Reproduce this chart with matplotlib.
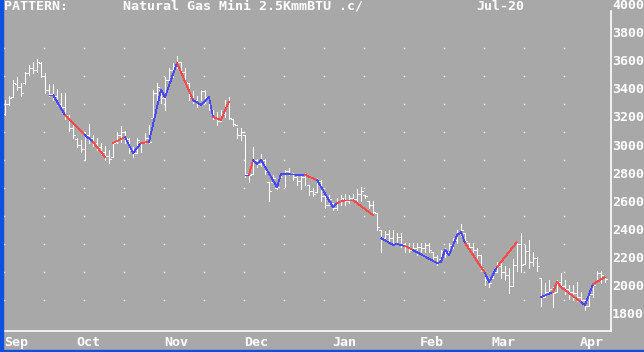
import numpy as np
import matplotlib
matplotlib.use('Agg')
import matplotlib.pyplot as plt
from matplotlib.patches import Rectangle
from matplotlib.transforms import ScaledTranslation

plt.rcParams['font.family'] = 'DejaVu Sans Mono'
plt.rcParams['font.weight'] = 'bold'

title_left = 'PATTERN:'
title_mid = 'Natural Gas Mini 2.5KmmBTU .c/'
title_right = 'Jul-20'

# daily OHLC, one bar per trading day (Sep .. Apr)
highs = [3330, 3360, 3470, 3490, 3450, 3530, 3580, 3600, 3620, 3600,
         3520, 3440, 3440, 3410, 3380, 3380, 3220, 3150, 3060, 3040,
         3100, 3160, 3080, 3060, 3020, 3000, 2970, 3030, 3100, 3140,
         3110, 3060, 2990, 3060, 3030, 3090, 3150, 3400, 3450, 3410,
         3490, 3560, 3590, 3640, 3600, 3560, 3450, 3390, 3360, 3400,
         3400, 3350, 3260, 3240, 3260, 3330, 3350, 3190, 3130, 3130,
         3080, 2830, 2990, 2910, 2940, 2910, 2740, 2790, 2720, 2810,
         2830, 2840, 2810, 2790, 2790, 2810, 2720, 2700, 2770, 2760,
         2650, 2650, 2590, 2630, 2650, 2660, 2650, 2660, 2690, 2710,
         2650, 2610, 2610, 2520, 2400, 2390, 2400, 2400, 2380, 2380,
         2310, 2310, 2310, 2310, 2310, 2310, 2310, 2240, 2220, 2260,
         2270, 2310, 2340, 2400, 2440, 2380, 2310, 2310, 2270, 2220,
         2100, 2060, 2110, 2170, 2170, 2140, 2130, 2190, 2310, 2380,
         2290, 2330, 2240, 2210, 2060, 2020, 2040, 1990, 2040, 2090,
         2040, 2010, 2010, 2030, 1960, 1900, 1960, 2020, 2110, 2110,
         2060]
lows = [3220, 3290, 3350, 3400, 3360, 3440, 3510, 3520, 3530, 3490,
        3380, 3360, 3330, 3290, 3260, 3190, 3110, 3060, 2990, 2960,
        2900, 3020, 3000, 2970, 2940, 2900, 2880, 2920, 3020, 3030,
        3020, 2950, 2920, 2950, 2960, 3020, 3020, 3190, 3330, 3310,
        3260, 3450, 3490, 3560, 3510, 3450, 3330, 3310, 3280, 3330,
        3310, 3260, 3190, 3150, 3190, 3210, 3190, 3140, 3060, 3040,
        2780, 2740, 2810, 2850, 2860, 2800, 2610, 2740, 2690, 2780,
        2710, 2790, 2760, 2720, 2690, 2720, 2650, 2640, 2670, 2610,
        2560, 2590, 2540, 2540, 2580, 2580, 2590, 2610, 2590, 2610,
        2630, 2560, 2520, 2400, 2240, 2330, 2310, 2310, 2310, 2280,
        2240, 2240, 2260, 2220, 2240, 2240, 2240, 2190, 2150, 2190,
        2210, 2240, 2270, 2310, 2360, 2310, 2260, 2240, 2200, 2110,
        2010, 1990, 2060, 2100, 2060, 2040, 1950, 2000, 2110, 2100,
        2160, 2130, 2140, 2110, 1860, 1920, 1940, 1850, 1960, 1990,
        1940, 1910, 1900, 1890, 1890, 1830, 1860, 1920, 2030, 2020,
        2030]
opens = [3230, 3300, 3350, 3440, 3420, 3450, 3520, 3560, 3540, 3590,
         3500, 3400, 3370, 3360, 3300, 3280, 3200, 3130, 3050, 3010,
         2980, 3080, 3060, 3020, 2990, 2960, 2930, 2920, 3030, 3080,
         3100, 3050, 2970, 2950, 3030, 3020, 3060, 3200, 3380, 3400,
         3340, 3470, 3540, 3570, 3600, 3530, 3450, 3350, 3330, 3300,
         3390, 3350, 3260, 3210, 3180, 3230, 3300, 3190, 3150, 3080,
         3080, 2800, 2800, 2900, 2870, 2900, 2740, 2740, 2700, 2790,
         2800, 2820, 2800, 2780, 2750, 2780, 2720, 2680, 2670, 2750,
         2640, 2580, 2590, 2560, 2600, 2620, 2610, 2630, 2620, 2660,
         2650, 2610, 2580, 2520, 2400, 2340, 2370, 2340, 2310, 2350,
         2300, 2280, 2260, 2270, 2280, 2270, 2290, 2240, 2210, 2190,
         2250, 2240, 2290, 2330, 2370, 2380, 2310, 2280, 2260, 2220,
         2100, 2040, 2060, 2100, 2140, 2100, 2080, 2000, 2150, 2300,
         2160, 2250, 2170, 2200, 2060, 1920, 1960, 1960, 1960, 2030,
         2000, 1980, 1960, 1950, 1920, 1900, 1860, 1940, 2030, 2090,
         2060]
closes = [3300, 3340, 3450, 3420, 3380, 3520, 3560, 3540, 3600, 3500,
          3400, 3370, 3360, 3300, 3280, 3220, 3130, 3080, 3010, 2980,
          3080, 3060, 3020, 2990, 2960, 2930, 2910, 3020, 3080, 3100,
          3060, 2970, 2950, 3040, 3020, 3060, 3030, 3380, 3420, 3340,
          3470, 3540, 3570, 3600, 3530, 3460, 3350, 3330, 3300, 3390,
          3350, 3280, 3210, 3180, 3230, 3300, 3200, 3160, 3080, 3100,
          2800, 2790, 2900, 2870, 2900, 2820, 2680, 2770, 2710, 2800,
          2820, 2800, 2780, 2750, 2780, 2790, 2680, 2660, 2750, 2640,
          2580, 2620, 2560, 2600, 2630, 2610, 2630, 2620, 2660, 2680,
          2640, 2580, 2530, 2420, 2340, 2370, 2340, 2300, 2350, 2300,
          2280, 2260, 2270, 2280, 2270, 2290, 2260, 2210, 2170, 2250,
          2230, 2290, 2330, 2370, 2400, 2320, 2280, 2260, 2220, 2130,
          2040, 2020, 2100, 2140, 2100, 2080, 2000, 2150, 2300, 2150,
          2250, 2170, 2200, 2140, 1920, 1960, 1980, 1950, 2030, 2000,
          1980, 1960, 1950, 1920, 1900, 1860, 1940, 2010, 2090, 2080,
          2050]

# pattern overlay: turning points (bar index, price) and a colour per segment
pat_i = [11, 12, 15, 20, 22, 25, 27, 30, 32, 34, 36, 39, 40, 43, 47, 49,
         51, 52, 54, 56, 60, 61, 62, 63, 64, 68, 69, 75, 78, 82, 83, 85,
         87, 92, 94, 97, 98, 100, 102, 108, 109, 110, 111, 113, 114, 115,
         120, 121, 123, 128, 134, 137, 138, 139, 144, 145, 147, 150]
pat_v = [3364, 3364, 3221, 3079, 3029, 2921, 3021, 3064, 2950, 3021, 3029,
         3400, 3350, 3593, 3329, 3293, 3350, 3207, 3186, 3320, 2793, 2793,
         2900, 2871, 2900, 2707, 2800, 2793, 2757, 2564, 2593, 2614, 2614,
         2507, 2343, 2293, 2300, 2286, 2257, 2164, 2171, 2257, 2221, 2364,
         2386, 2307, 2093, 2029, 2136, 2314, 1921, 1957, 2029, 1993, 1886,
         1864, 2014, 2064]
pat_col = 'bbrbr-rbbrbbbrbbbrr-brbbbbbrbbrrr-bbbrbbbbbbbrbbr-brrrbbr'

month_names = ['Sep', 'Oct', 'Nov', 'Dec', 'Jan', 'Feb', 'Mar', 'Apr']
month_start = [0, 18, 40, 60, 82, 104, 122, 144]
price_ticks = [1800, 2000, 2200, 2400, 2600, 2800, 3000, 3200, 3400,
               3600, 3800, 4000]
grid_prices = [1900, 2100, 2300, 2500, 2700, 2900, 3100, 3300, 3500, 3700]

bg = '#a8a8a8'
white = '#ffffff'
colors = {'b': '#4848ff', 'r': '#ff4848'}
ymin, ymax = 1679, 3964

fig = plt.figure(figsize=(6.44, 3.52), dpi=100, facecolor=bg)
ax = fig.add_axes([4 / 644, 21 / 352, 607 / 644, 320 / 352], facecolor=bg)
ax.set_xlim(-0.25, 151.5)
ax.set_ylim(ymin, ymax)

# dotted grid
gx = np.arange(-0.25, 141, 10)
GX, GY = np.meshgrid(gx, grid_prices)
ax.plot(GX.ravel(), GY.ravel(), ls='none', marker='s', ms=1.0, mew=0,
        color=white, antialiased=False)

# OHLC bars, 1 px lines
idx = np.arange(len(highs))
lw = 0.72
ax.vlines(idx, lows, highs, color=white, lw=lw, antialiased=False)
ax.hlines(opens, idx - 0.4, idx, color=white, lw=lw, antialiased=False)
ax.hlines(closes, idx, idx + 0.4, color=white, lw=lw, antialiased=False)

# pattern segments (thin, 1 px)
for k, c in enumerate(pat_col):
    if c == '-':
        continue
    ax.plot(pat_i[k:k + 2], pat_v[k:k + 2], color=colors[c], lw=0.55,
            antialiased=False, solid_capstyle='butt')

for s in ['top', 'left']:
    ax.spines[s].set_visible(False)
for s in ['right', 'bottom']:
    ax.spines[s].set_color(white)
    ax.spines[s].set_linewidth(1.2)
ax.set_xticks([])
ax.set_yticks([])

fs = 9.6
for p in price_ticks:
    ax.text(1.002, (p - ymin) / (ymax - ymin), str(p), transform=ax.transAxes,
            ha='left', va='center', color=white, fontsize=fs, clip_on=False)
shift = ax.transData + ScaledTranslation(0, -5 / 100, fig.dpi_scale_trans)
for name, m in zip(month_names, month_start):
    ax.text(m - 0.25, ymin, name, ha='left', va='top', color=white,
            fontsize=fs, clip_on=False, transform=shift)

fig.text(4 / 644, 1 - 6 / 352, title_left, ha='left', va='center',
         color=white, fontsize=fs)
fig.text(123 / 644, 1 - 6 / 352, title_mid, ha='left', va='center',
         color=white, fontsize=fs)
fig.text(476 / 644, 1 - 6 / 352, title_right, ha='left', va='center',
         color=white, fontsize=fs)

# window frame (blue strips on the left and bottom edge)
fig.patches.append(Rectangle((0, 0), 3 / 644, 1, transform=fig.transFigure,
                             color='#1050e0', zorder=10))
fig.patches.append(Rectangle((0, 0), 1, 2 / 352, transform=fig.transFigure,
                             color='#1050e0', zorder=10))

fig.savefig('out.png', dpi=100, facecolor=bg)
